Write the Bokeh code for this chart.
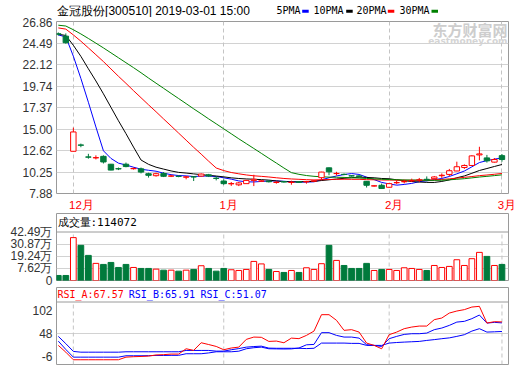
import numpy as np
import pandas as pd
from bokeh.plotting import figure
from bokeh.models import Range1d, FixedTicker, Span, ColumnDataSource, Grid, LinearAxis
from bokeh.layouts import column
from bokeh.embed import file_html
from bokeh.resources import INLINE
from bokeh.core.properties import value

# ---------------- data ----------------
stock_name = "金冠股份"
stock_code = "300510"
stamp = "2019-03-01 15:00"
month_labels = ["12月", "1月", "2月", "3月"]
month_start_idx = [2, 22, 44, 59]
price_tick_labels = ["7.88", "10.25", "12.62", "15.00", "17.37", "19.74", "22.12", "24.49", "26.86"]
vol_tick_labels = ["0", "7.62", "19.24", "30.87", "42.49"]
rsi_tick_labels = ["102", "48", "-6"]
ma_periods = [5, 10, 20, 30]
ma_names = ["5PMA", "10PMA", "20PMA", "30PMA"]

# closes before the first visible bar (needed by the moving averages)
prior_close = [27.3, 27.0, 27.2, 26.9, 27.4, 27.1, 26.8, 27.0, 27.3, 27.0,
               27.2, 27.5, 27.1, 26.8, 26.9, 26.6, 26.7, 26.9, 26.5, 26.8,
               25.9, 25.6, 25.4, 25.7, 25.3, 25.6, 25.4, 25.5, 25.1]

open_ = [25.55, 25.29, 12.55, 13.25, 11.93, 11.82, 11.99, 11.12, 10.63, 11.12,
         10.62, 10.61, 10.07, 9.85, 10.10, 9.80, 9.79, 9.69, 9.73, 9.81,
         9.95, 9.57, 9.26, 8.95, 8.84, 8.97, 9.33, 9.24, 9.25, 9.10,
         9.20, 9.10, 9.18, 9.17, 9.25, 9.63, 10.72, 10.08, 10.00, 9.84,
         9.83, 9.23, 8.71, 8.79, 8.57, 9.07, 9.18, 9.28, 9.36, 9.45,
         9.52, 9.85, 9.99, 10.37, 10.76, 10.98, 12.15, 11.82, 11.35, 12.07]
high = [25.70, 25.59, 15.17, 13.40, 12.27, 12.10, 12.10, 11.15, 10.75, 11.30,
        10.75, 10.75, 10.18, 10.18, 10.25, 9.95, 9.88, 9.82, 9.81, 10.10,
        10.05, 9.81, 9.45, 9.15, 9.15, 9.40, 9.95, 9.35, 9.30, 9.26,
        9.25, 9.30, 9.22, 9.27, 9.35, 10.28, 10.75, 10.28, 10.10, 9.90,
        9.90, 9.25, 8.80, 8.98, 9.05, 9.34, 9.41, 9.52, 9.60, 9.77,
        9.80, 10.10, 10.60, 11.40, 11.10, 12.10, 13.05, 12.15, 11.80, 12.25]
low = [25.35, 24.45, 12.55, 13.00, 11.73, 11.65, 11.20, 10.45, 10.47, 10.78,
       10.53, 10.10, 9.64, 9.75, 9.70, 9.70, 9.68, 9.45, 9.26, 9.75,
       9.70, 9.33, 8.84, 8.72, 8.70, 8.95, 8.70, 9.15, 9.10, 8.97,
       9.08, 8.85, 9.05, 8.97, 9.15, 9.40, 9.90, 9.88, 9.90, 9.75,
       9.70, 8.54, 8.65, 8.40, 8.50, 8.90, 9.00, 9.16, 9.16, 9.23,
       9.45, 9.60, 9.80, 10.35, 10.60, 10.95, 11.55, 11.30, 11.30, 11.40]
close = [25.50, 24.56, 14.69, 13.22, 11.90, 11.85, 11.37, 10.47, 10.60, 10.86,
         10.65, 10.25, 9.89, 10.07, 9.78, 9.82, 9.77, 9.71, 9.71, 10.03,
         9.81, 9.55, 8.97, 8.98, 9.05, 9.33, 9.45, 9.27, 9.18, 9.12,
         9.15, 9.13, 9.12, 9.20, 9.27, 10.25, 10.28, 10.10, 9.98, 9.82,
         9.77, 8.79, 8.73, 8.43, 8.97, 9.09, 9.20, 9.30, 9.38, 9.43,
         9.71, 9.90, 10.40, 10.84, 10.98, 12.04, 12.26, 11.49, 11.64, 11.64]
# volume in 万 (10k lots)
volume = [0.81, 0.81, 37.1, 29.7, 20.06, 12.4, 11.4, 13.3, 8.5, 11.4,
          8.5, 7.55, 7.55, 6.9, 5.9, 5.9, 4.95, 5.9, 6.6, 10.15,
          7.55, 4.95, 7.55, 6.3, 5.6, 6.6, 14.3, 11.9, 6.6, 4.6,
          3.7, 5.6, 3.7, 8.2, 6.6, 12.1, 29.7, 15.25, 10.4, 7.55,
          7.55, 12.4, 5.6, 6.6, 6.6, 5.6, 8.2, 7.55, 6.6, 5.6,
          10.4, 8.5, 9.5, 15.9, 10.4, 16.9, 22.95, 19.1, 10.4, 11.4072]
rsi_a = [27.0, 15.3, 2.2, 2.2, 2.2, 2.2, 2.2, 2.2, 2.2, 6.7,
         7.5, 7.9, 8.5, 10.5, 11.0, 12.0, 12.0, 21.2, 18.4, 31.6,
         28.5, 25.2, 19.5, 22.5, 24.0, 37.4, 41.4, 41.0, 33.9, 34.5,
         31.6, 39.6, 38.7, 44.3, 51.7, 80.1, 80.1, 70.3, 53.0, 54.2,
         50.0, 31.0, 27.0, 21.2, 45.5, 50.0, 55.9, 58.7, 60.4, 60.4,
         71.5, 74.3, 82.9, 86.4, 88.8, 93.3, 94.5, 65.6, 68.0, 67.57]
rsi_b = [34.4, 20.0, 6.7, 6.7, 6.7, 6.7, 6.7, 6.7, 6.7, 9.1,
         9.1, 9.1, 9.3, 9.6, 9.6, 9.8, 9.8, 12.6, 12.6, 12.6,
         14.0, 16.0, 16.0, 16.0, 17.0, 21.2, 23.0, 24.0, 21.2, 21.0,
         20.8, 21.0, 22.5, 28.0, 28.7, 49.0, 49.0, 44.3, 41.4, 41.4,
         39.6, 28.2, 27.0, 25.2, 38.6, 42.6, 46.0, 47.2, 47.2, 48.3,
         54.2, 57.0, 61.6, 67.3, 68.6, 73.2, 79.5, 65.6, 66.8, 65.91]
rsi_c = [42.6, 30.0, 16.6, 15.3, 15.3, 15.3, 15.3, 15.3, 15.3, 16.0,
         16.0, 16.0, 16.0, 16.0, 16.0, 16.0, 16.0, 18.3, 18.3, 18.3,
         18.3, 17.1, 17.1, 19.5, 21.5, 24.0, 25.0, 25.7, 22.3, 22.0,
         22.0, 22.0, 22.0, 21.5, 22.0, 31.0, 31.0, 31.0, 31.0, 30.5,
         30.5, 27.0, 27.0, 27.0, 31.0, 32.0, 32.7, 33.3, 33.9, 35.6,
         37.0, 38.6, 40.0, 42.6, 45.5, 51.7, 55.9, 50.0, 50.5, 51.07]

# ---------------- styles ----------------
RED = "#ff0000"
GREEN = "#007a3c"
MA_COLORS = ["#0000ff", "#000000", "#ff0000", "#008000"]
GRID = "#d2d2d2"
DASH = "#c4c4c4"
BORDER = "#9a9a9a"
AXIS_TEXT = "#333333"
MONO = "DejaVu Sans Mono"

W = 520
LB, RB = 56, 12
FRAME_W = W - LB - RB
xr = Range1d(-0.24, 59.87)
sx = FRAME_W / (xr.end - xr.start)

n = len(close)
idx = list(range(n))

allc = pd.Series(prior_close + close, dtype=float)
mas = [allc.rolling(k).mean().values[-n:] for k in ma_periods]

o = np.array(open_); c = np.array(close)
up = c >= o
col = [RED if u else GREEN for u in up]
fill = ["white" if u else GREEN for u in up]


def make_fig(height, y_range, top, bottom):
    f = figure(width=W, height=height, x_range=xr, y_range=y_range,
               output_backend="svg", toolbar_location=None,
               x_axis_location=None, y_axis_location="left",
               min_border_left=LB, min_border_right=RB,
               min_border_top=top, min_border_bottom=bottom)
    f.outline_line_color = BORDER
    f.outline_line_width = 1
    f.background_fill_color = "white"
    f.border_fill_color = "white"
    f.xgrid.visible = False
    ax = f.yaxis[0]
    ax.axis_line_color = None
    ax.major_tick_line_color = None
    ax.minor_tick_line_color = None
    ax.major_tick_out = 0
    ax.major_tick_in = 0
    ax.major_label_standoff = 4
    ax.major_label_text_font = "Liberation Sans"
    ax.major_label_text_font_size = "12px"
    ax.major_label_text_color = AXIS_TEXT
    f.ygrid.grid_line_color = GRID
    return f


# ---------------- header row (title + MA legend) ----------------
# its frame is aligned by the column layout with the panels below (x = 56..508 px)
HDR_H = 17
hdr = figure(width=W, height=HDR_H, x_range=Range1d(LB, W - RB), y_range=Range1d(HDR_H, 0),
             output_backend="svg", toolbar_location=None,
             x_axis_location=None, y_axis_location=None,
             min_border_left=0, min_border_right=0, min_border_top=0, min_border_bottom=0)
hdr.outline_line_color = None
hdr.background_fill_color = "white"
hdr.border_fill_color = "white"
hdr.grid.visible = False
hdr.text(x=[56.6], y=[10], text=[f"{stock_name}[{stock_code}] {stamp}"],
         text_align="left", text_baseline="middle", text_color="#000000",
         text_font=value("Liberation Sans"), text_font_size=value("12px"))
leg_text_x = [276, 313, 356, 399]
leg_mark_x = [301.7, 345.7, 387.3, 431]
hdr.text(x=leg_text_x, y=[9.7] * 4, text=ma_names, text_align="left", text_baseline="middle",
         text_color="#000000", text_font=value(MONO), text_font_size=value("10px"))
hdr.quad(left=leg_mark_x, right=[m + 6.5 for m in leg_mark_x], top=[9.3] * 4, bottom=[12.3] * 4,
         fill_color=MA_COLORS, line_color=None)

# ---------------- main price panel ----------------
MAIN_FRAME_H = 174
MAIN_TOP, MAIN_BOTTOM = 4, 18
pt = [float(s) for s in price_tick_labels]
yr_main = Range1d(pt[0], pt[-1] + 0.05)
sy = MAIN_FRAME_H / (yr_main.end - yr_main.start)
p = make_fig(MAIN_TOP + MAIN_FRAME_H + MAIN_BOTTOM, yr_main, MAIN_TOP, MAIN_BOTTOM)
p.yaxis[0].ticker = FixedTicker(ticks=pt)
p.yaxis[0].major_label_overrides = {v: s for v, s in zip(pt, price_tick_labels)}
p.ygrid.ticker = FixedTicker(ticks=pt[1:-1])
p.add_layout(Grid(dimension=0, ticker=FixedTicker(ticks=month_start_idx),
                  grid_line_color=DASH, grid_line_dash="4 3"))

# month labels: left edge ~4 px before the month line (axis labels are centred)
MON_FS = 11.5
def est_width(s):
    return sum(MON_FS if ord(ch) > 255 else 0.556 * MON_FS for ch in s)
mon_ticks = [i + (est_width(s) / 2 - 4) / sx for i, s in zip(month_start_idx, month_labels)]
mon_axis = LinearAxis(ticker=FixedTicker(ticks=mon_ticks),
                      major_label_overrides={t: s for t, s in zip(mon_ticks, month_labels)})
mon_axis.axis_line_color = None
mon_axis.major_tick_line_color = None
mon_axis.minor_tick_line_color = None
mon_axis.major_tick_out = 0
mon_axis.major_tick_in = 0
mon_axis.major_label_standoff = 5
mon_axis.major_label_text_font = "Liberation Sans"
mon_axis.major_label_text_font_size = f"{MON_FS}px"
mon_axis.major_label_text_color = RED
p.add_layout(mon_axis, "below")

# watermark
p.text(x=[xr.end - 1 / sx], y=[yr_main.end - 8 / sy], text=["东方财富网"],
       text_align="right", text_baseline="middle", text_color="#cdcdcd",
       text_font=value("Noto Sans CJK SC"), text_font_size=value("15px"),
       text_font_style="bold")
p.text(x=[xr.end - 1 / sx], y=[yr_main.end - 19.5 / sy], text=["eastmoney.com"],
       text_align="right", text_baseline="middle", text_color="#d4d4d4",
       text_font=value("DejaVu Sans"), text_font_size=value("9px"),
       text_font_style="bold")

for m, colr in zip(mas, MA_COLORS):
    p.line(idx, m, line_color=colr, line_width=1)

src = ColumnDataSource(dict(x=idx, h=high, l=low, top=np.maximum(o, c), bot=np.minimum(o, c),
                            col=col, fill=fill))
p.segment(x0="x", y0="h", x1="x", y1="l", line_color="col", line_width=1, source=src)
p.vbar(x="x", width=0.72, top="top", bottom="bot", fill_color="fill",
       line_color="col", line_width=1, source=src)

# ---------------- volume panel ----------------
VOL_FRAME_H = 67
VOL_BAND = 18.5
vt = [float(s) for s in vol_tick_labels[1:]]
vstep = (vt[-1] - vt[0]) / (len(vt) - 1)
vol_bottom = vt[0] - vstep
vol_px = (VOL_FRAME_H - VOL_BAND) / (vt[-1] - vol_bottom)
vol_top = vt[-1] + VOL_BAND / vol_px
v = make_fig(74, Range1d(vol_bottom, vol_top), 0, 7)
vticks = [vol_bottom] + vt
v.yaxis[0].ticker = FixedTicker(ticks=vticks)
v.yaxis[0].major_label_overrides = {t: (s if t == vol_bottom else s + "万")
                                    for t, s in zip(vticks, vol_tick_labels)}
v.ygrid.ticker = FixedTicker(ticks=vt[:-1])
v.add_layout(Span(location=vt[-1], dimension="width", line_color=BORDER, line_width=1))
v.segment(x0=month_start_idx, y0=[vol_bottom] * 4, x1=month_start_idx, y1=[vt[-1]] * 4,
          line_color=DASH, line_dash="4 3", line_width=1)
vsrc = ColumnDataSource(dict(x=idx, top=volume, col=col, fill=fill))
v.vbar(x="x", width=0.76, top="top", bottom=vol_bottom, fill_color="fill",
       line_color="col", line_width=1, source=vsrc)
v.text(x=[xr.start + 1 / sx], y=[(vt[-1] + vol_top) / 2],
       text=[f"成交量:{round(volume[-1] * 10000)}"], text_align="left", text_baseline="middle",
       text_color="#000000", text_font=value(MONO), text_font_size=value("11px"))

# ---------------- RSI panel ----------------
RSI_FRAME_H = 77
RSI_BAND = 14.5
rt = [float(s) for s in rsi_tick_labels]
r_lo, r_hi = min(rt), max(rt)
rsi_px = (RSI_FRAME_H - RSI_BAND) / (r_hi - r_lo)
r_top = r_hi + RSI_BAND / rsi_px
r = make_fig(78, Range1d(r_lo, r_top), 0, 1)
disp = [min(max(t, r_lo + 8 / rsi_px), r_hi - 8.3 / rsi_px) for t in rt]
r.yaxis[0].ticker = FixedTicker(ticks=disp)
r.yaxis[0].major_label_overrides = {d: s for d, s in zip(disp, rsi_tick_labels)}
r.ygrid.ticker = FixedTicker(ticks=rt[1:-1])
r.add_layout(Span(location=r_hi, dimension="width", line_color=BORDER, line_width=1))
r.segment(x0=month_start_idx, y0=[r_lo] * 4, x1=month_start_idx, y1=[r_hi] * 4,
          line_color=DASH, line_dash="4 3", line_width=1)
r.line(idx, rsi_c, line_color="#0000ff", line_width=1)
r.line(idx, rsi_b, line_color="#0000ff", line_width=1)
r.line(idx, rsi_a, line_color=RED, line_width=1)
rsi_hdr = [(f"RSI_A:{rsi_a[-1]:.2f}", RED, 1),
           (f"RSI_B:{rsi_b[-1]:.2f}", "#0000ff", 72.3),
           (f"RSI_C:{rsi_c[-1]:.2f}", "#0000ff", 144)]
for txt, colr, px in rsi_hdr:
    r.text(x=[xr.start + px / sx], y=[(r_hi + r_top) / 2], text=[txt],
           text_align="left", text_baseline="middle", text_color=colr,
           text_font=value(MONO), text_font_size=value("10px"))

layout = column(hdr, p, v, r)
open("out.html", "w").write(file_html(layout, INLINE, "chart"))
